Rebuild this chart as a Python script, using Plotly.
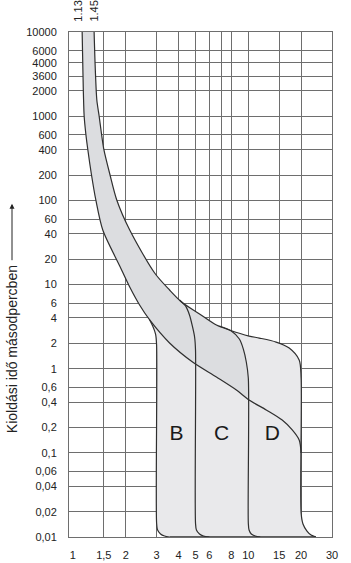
import numpy as np
import plotly.graph_objects as go

# ---------------- data (current multiple I/In , trip time s) ----------------
# upper thermal curve (1.45 In) continuing into the D-characteristic limit
u_x = [1.321, 1.342, 1.369, 1.411, 1.456, 1.50, 1.623, 1.778, 2.108, 2.924, 3.557, 4.16, 5.27, 6.58, 7.8, 10.1, 11.55, 14.4, 17.1, 19.5, 20.0, 20.0, 20.5, 21.6, 22.8, 24.3]
u_t = [10000, 3536, 1556, 1004, 614, 407, 205.6, 101, 44.4, 13.7, 8.6, 6.2, 4.47, 3.30, 2.88, 2.44, 2.31, 2.07, 1.76, 1.27, 0.775, 0.0193, 0.0143, 0.01178, 0.01057, 0.01]

# lower thermal curve (1.13 In)
l_x = [1.129, 1.140, 1.159, 1.185, 1.217, 1.274, 1.351, 1.480, 1.849, 2.108, 2.40, 2.74, 3.557, 4.81, 6.58, 8.55, 10.1, 12.66, 15.6, 17.8, 19.5, 20.0]
l_t = [10000, 3536, 1004, 614, 396, 205.6, 101, 44.4, 16.6, 9.34, 5.71, 3.79, 2.02, 1.20, 0.796, 0.558, 0.425, 0.323, 0.245, 0.187, 0.142, 0.0995]

# B lower limit (3 In)
bl_x = [2.74, 2.85, 2.96, 3.0, 3.0, 3.04, 3.16, 3.33, 3.56]
bl_t = [3.79, 3.21, 2.58, 1.91, 0.0147, 0.0121, 0.01086, 0.01027, 0.01]

# B upper / C lower limit (5 In)
br_x = [4.055, 4.385, 4.62, 4.81, 4.94, 5.0, 5.0, 5.06, 5.27, 5.55, 6.0]
br_t = [6.55, 5.56, 4.34, 3.13, 2.38, 1.67, 0.0147, 0.0121, 0.01086, 0.01027, 0.01]

# C upper / D lower limit (10 In)
cr_x = [6.84, 8.0, 8.89, 9.37, 9.74, 10.0, 10.0, 10.1, 10.4, 10.96, 11.7]
cr_t = [3.21, 2.80, 2.25, 1.71, 1.20, 0.775, 0.0147, 0.0121, 0.01086, 0.01027, 0.01]

# region labels
lab_text = ["B", "C", "D"]
lab_x = [3.9, 7.03, 13.7]
lab_t = [0.163, 0.163, 0.163]

# axis ticks
x_tick_vals = [1, 1.5, 2, 3, 4, 5, 6, 8, 10, 15, 20, 30]
x_tick_text = ["1", "1,5", "2", "3", "4", "5", "6", "8", "10", "15", "20", "30"]
x_grid_vals = [1.5, 2, 3, 4, 5, 6, 7, 8, 10, 15, 20, 30]
y_tick_vals = [10000, 6000, 4300, 3000, 2000, 1000, 600, 400, 200, 100, 60, 40, 20, 10, 6, 4, 2, 1,
               0.6, 0.4, 0.2, 0.1, 0.06, 0.04, 0.02, 0.01]
y_tick_text = ["10000", "6000", "4000", "3600", "2000", "1000", "600", "400", "200", "100", "60", "40",
               "20", "10", "6", "4", "2", "1", "0,6", "0,4", "0,2", "0,1", "0,06", "0,04", "0,02", "0,01"]

FONT = "Liberation Sans, Arial, sans-serif"
LINE = "#2f2f2f"
GRID = "#6e6e6e"
LIGHT = "#e9e9eb"
DARK = "#dcdde0"
SM = 0.8

fig = go.Figure()

# light fill: whole characteristic area
k = l_x.index(bl_x[0])
light_x = u_x + bl_x[::-1] + l_x[:k][::-1]
light_t = u_t + bl_t[::-1] + l_t[:k][::-1]
fig.add_trace(go.Scatter(x=light_x, y=light_t, mode="lines", fill="toself", fillcolor=LIGHT,
                         line=dict(width=0, shape="spline", smoothing=SM), hoverinfo="skip"))

# darker thermal band up to the 10 In limit
ux = [x for x in u_x if x < cr_x[0]]
ut = u_t[:len(ux)]
lx = [x for x in l_x if x < 10]
lt = l_t[:len(lx)]
l_at10 = 10 ** np.interp(1.0, np.log10(l_x), np.log10(l_t))
dark_x = ux + cr_x[:6] + [10.0] + lx[::-1]
dark_t = ut + cr_t[:6] + [l_at10] + lt[::-1]
fig.add_trace(go.Scatter(x=dark_x, y=dark_t, mode="lines", fill="toself", fillcolor=DARK,
                         line=dict(width=0, shape="spline", smoothing=SM), hoverinfo="skip"))

# outlines
for xs, ts in [(u_x, u_t), (l_x, l_t), (bl_x, bl_t), (br_x, br_t), (cr_x, cr_t)]:
    fig.add_trace(go.Scatter(x=xs, y=ts, mode="lines",
                             line=dict(color=LINE, width=1.2, shape="spline", smoothing=SM),
                             hoverinfo="skip"))
fig.add_trace(go.Scatter(x=[bl_x[-1], u_x[-1]], y=[bl_t[-1], u_t[-1]], mode="lines",
                         line=dict(color=LINE, width=1.4), hoverinfo="skip"))

# B / C / D labels
fig.add_trace(go.Scatter(x=lab_x, y=lab_t, mode="text", text=lab_text,
                         textfont=dict(family=FONT, size=21, color="#1a1a1a"), hoverinfo="skip"))

# top labels 1.13 / 1.45
for txt, xv, xs in [("1.13", l_x[0], -5), ("1.45", u_x[0], -1)]:
    fig.add_annotation(x=np.log10(xv), y=1, xref="x", yref="paper", text=txt, showarrow=False,
                       textangle=-90, xanchor="center", yanchor="bottom", xshift=xs, yshift=8,
                       font=dict(family=FONT, size=11, color="#222"))

# y-axis title with arrow
fig.add_annotation(x=-0.2167, y=0.372, xref="paper", yref="paper", text="Kioldási idő másodpercben",
                   showarrow=False, textangle=-90, xanchor="center", yanchor="middle",
                   font=dict(family=FONT, size=14, color="#222"))
fig.add_annotation(x=-0.2167, y=0.66, xref="paper", yref="paper", text="", showarrow=True,
                   ax=0, ay=58, arrowhead=2, arrowsize=1, arrowwidth=1, arrowcolor="#222")

fig.update_layout(
    width=351, height=563,
    margin=dict(l=69, r=19, t=32, b=26, autoexpand=False),
    paper_bgcolor="white", plot_bgcolor="white",
    showlegend=False,
    font=dict(family=FONT, size=11, color="#222"),
    xaxis=dict(type="log", range=[np.log10(0.95), np.log10(30)], automargin=False,
               tickmode="array", tickvals=x_tick_vals, ticktext=x_tick_text,
               showgrid=False, zeroline=False, ticks="", ticklabelstandoff=8,
               showline=True, mirror=True, linecolor=GRID, linewidth=1,
               minor=dict(tickmode="array", tickvals=x_grid_vals, showgrid=True,
                          gridcolor=GRID, gridwidth=1, ticks=""),
               tickfont=dict(family=FONT, size=11, color="#222")),
    yaxis=dict(type="log", range=[-2, 4], automargin=False,
               tickmode="array", tickvals=y_tick_vals, ticktext=y_tick_text,
               showgrid=True, gridcolor=GRID, gridwidth=1, zeroline=False, ticks="",
               ticklabelstandoff=9,
               showline=True, mirror=True, linecolor=GRID, linewidth=1,
               tickfont=dict(family=FONT, size=11, color="#222")),
)

fig.write_html("out.html")
